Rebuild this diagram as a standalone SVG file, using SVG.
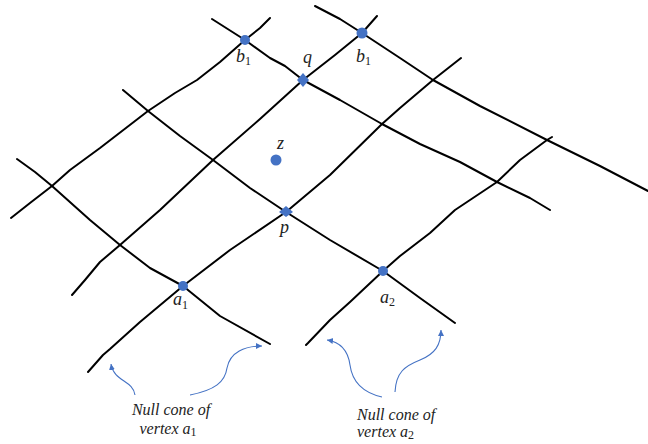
<svg xmlns="http://www.w3.org/2000/svg" width="648" height="444" viewBox="0 0 648 444">
<defs>
<style>
.ln{fill:none;stroke:#000;stroke-width:2;stroke-linejoin:round;stroke-linecap:round}
.pt{fill:#4472C4}
.lb{font-family:"Liberation Serif","DejaVu Serif",serif;font-style:italic;font-size:18px;fill:#222}
.sub{font-style:normal;font-size:12px}
.cap{font-family:"Liberation Serif","DejaVu Serif",serif;font-style:italic;font-size:16px;fill:#222}
.arr{fill:none;stroke:#4472C4;stroke-width:1.1;marker-end:url(#ah)}
</style>
<marker id="ah" markerWidth="8" markerHeight="8" refX="6" refY="3" orient="auto" markerUnits="userSpaceOnUse">
<path d="M0,0 L6,3 L0,6 Z" fill="#4472C4"/>
</marker>
</defs>
<rect width="648" height="444" fill="#fff"/>
<g id="connectors">
<polyline class="ln" points="11,218 30,203 52,186 70,170 100,148 148,111 175,93 197,80 220,62 245,40 260,28 270,18"/>
<polyline class="ln" points="72,295 85,280 100,262 120,245 160,210 213,160 260,119 303,80 335,55 362,33 377,16"/>
<polyline class="ln" points="88,372 103,355 110,349 140,322 183,286 230,250 286,212 330,175 382,124 400,108 433,80 461,58"/>
<polyline class="ln" points="306,345 308,343 330,320 350,302 383,271 400,256 430,233 455,210 470,200 497,182 520,160 547,140 552,137"/>
<polyline class="ln" points="212,19 245,40 270,58 285,66 303,80 340,100 382,124 420,144 460,162 497,182 530,198 550,210"/>
<polyline class="ln" points="315,6 340,19 362,33 400,58 433,80 480,106 547,140 600,166 648,191"/>
<polyline class="ln" points="123,90 148,111 180,136 213,160 250,188 286,212 330,240 383,271 420,298 455,323"/>
<polyline class="ln" points="17,159 35,172 52,186 90,220 120,245 150,268 183,286 220,316 270,344"/>
<path class="arr" d="M135,395 C133,380 114,382 111,364"/>
<path class="arr" d="M190,395 C215,390 225,382 227,368 C230,352 245,346 262,346"/>
<path class="arr" d="M382,397 C360,392 352,380 350,365 C348,350 340,342 327,340"/>
<path class="arr" d="M395,392 C396,372 405,366 420,360 C435,354 441,345 441,330"/>
</g>
<g id="b1-left"><circle class="pt" cx="245" cy="40" r="5"/><text class="lb" x="236" y="62">b<tspan class="sub" dy="3">1</tspan></text></g>
<g id="b1-right"><circle class="pt" cx="362" cy="33" r="5.5"/><text class="lb" x="356" y="62">b<tspan class="sub" dy="3">1</tspan></text></g>
<g id="q"><polygon class="pt" points="303,73 309,80 303,87 297,80"/><text class="lb" x="303" y="63">q</text></g>
<g id="z"><circle class="pt" cx="276" cy="160" r="5.5"/><text class="lb" x="277" y="149">z</text></g>
<g id="p"><polygon class="pt" points="286,206 293,212 286,217 279,212"/><text class="lb" x="280" y="233">p</text></g>
<g id="a1"><circle class="pt" cx="183" cy="286" r="5"/><text class="lb" x="173" y="305">a<tspan class="sub" dy="4">1</tspan></text></g>
<g id="a2"><circle class="pt" cx="383" cy="271" r="5"/><text class="lb" x="380" y="303">a<tspan class="sub" dy="3">2</tspan></text></g>
<g id="caption1"><text class="cap" x="171" y="415" text-anchor="middle">Null cone of</text><text class="cap" x="168" y="434" text-anchor="middle">vertex a<tspan class="sub" dy="2">1</tspan></text></g>
<g id="caption2"><text class="cap" x="357" y="420">Null cone of</text><text class="cap" x="357" y="437">vertex a<tspan class="sub" dy="2">2</tspan></text></g>
</svg>
